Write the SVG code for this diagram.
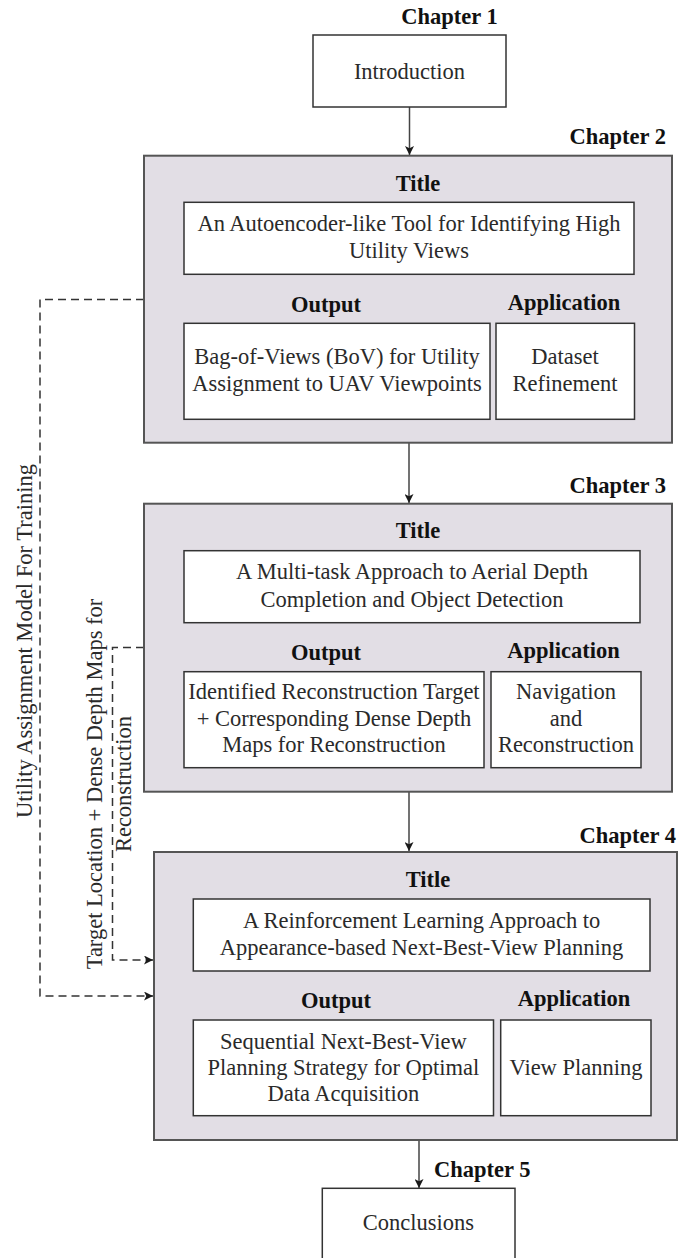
<svg xmlns="http://www.w3.org/2000/svg" width="678" height="1258" viewBox="0 0 678 1258">
<defs>
<marker id="arr" markerUnits="userSpaceOnUse" viewBox="0 0 10 10" markerWidth="9" markerHeight="9" refX="10" refY="5" orient="auto">
<path d="M0,0 L10,5 L0,10 L2.5,5 z" fill="#1a1a1a"/>
</marker>
</defs>
<style>
.chap{fill:#e2dee5;stroke:#555;stroke-width:2}
.box{fill:#fff;stroke:#333;stroke-width:1.5}
.plain{fill:#fff;stroke:#333;stroke-width:1.5}
.t{font-family:"Liberation Serif","Times New Roman",serif;font-size:22.5px;fill:#2a2a2a;text-anchor:middle}
.b{font-family:"Liberation Serif","Times New Roman",serif;font-size:22.5px;font-weight:bold;fill:#111;text-anchor:middle}
.end{text-anchor:end}
.start{text-anchor:start}
.conn{fill:none;stroke:#444;stroke-width:1.5}
.dash{fill:none;stroke:#333;stroke-width:1.5;stroke-dasharray:8 5}
</style>
<rect width="678" height="1258" fill="#fff"/>

<g id="connectors">
<line class="conn" x1="409.5" y1="107" x2="409.5" y2="155" marker-end="url(#arr)"/>
<line class="conn" x1="409" y1="443" x2="409" y2="503" marker-end="url(#arr)"/>
<line class="conn" x1="409" y1="792" x2="409" y2="851" marker-end="url(#arr)"/>
<line class="conn" x1="419" y1="1140" x2="419" y2="1188" marker-end="url(#arr)"/>
<path class="dash" d="M144,299.5 H40 V996 H153" marker-end="url(#arr)"/>
<path class="dash" d="M144,647.5 H112.5 V960 H153" marker-end="url(#arr)"/>
<text class="t" transform="translate(31.5,641) rotate(-90)">Utility Assignment Model For Training</text>
<text class="t" transform="translate(102,784) rotate(-90)"><tspan x="0" y="0">Target Location + Dense Depth Maps for</tspan><tspan x="0" y="29">Reconstruction</tspan></text>
</g>

<g id="chapter1">
<text class="b" x="449.5" y="23.5">Chapter 1</text>
<rect class="plain" x="313" y="35" width="193" height="72"/>
<text class="t" x="409.5" y="78.5">Introduction</text>
</g>

<g id="chapter2">
<text class="b end" x="666" y="143.5">Chapter 2</text>
<rect class="chap" x="144" y="155.7" width="528" height="287"/>
<text class="b" x="418" y="190.7">Title</text>
<rect class="box" x="184" y="202.3" width="450" height="72"/>
<text class="t" x="409" y="231">An Autoencoder-like Tool for Identifying High</text>
<text class="t" x="409" y="258.3">Utility Views</text>
<text class="b" x="326" y="311.7">Output</text>
<text class="b" x="564" y="310">Application</text>
<rect class="box" x="184" y="323.3" width="306" height="96"/>
<text class="t" x="337" y="364">Bag-of-Views (BoV) for Utility</text>
<text class="t" x="337" y="390.7">Assignment to UAV Viewpoints</text>
<rect class="box" x="496" y="323.3" width="138.5" height="96"/>
<text class="t" x="565" y="364">Dataset</text>
<text class="t" x="565" y="390.7">Refinement</text>
</g>

<g id="chapter3">
<text class="b end" x="666" y="493.3">Chapter 3</text>
<rect class="chap" x="144" y="503.7" width="528" height="288"/>
<text class="b" x="418" y="538.3">Title</text>
<rect class="box" x="184" y="550.7" width="456" height="72"/>
<text class="t" x="412" y="579.3">A Multi-task Approach to Aerial Depth</text>
<text class="t" x="412" y="606.7">Completion and Object Detection</text>
<text class="b" x="326" y="660">Output</text>
<text class="b" x="563.5" y="658.3">Application</text>
<rect class="box" x="184" y="671.7" width="300" height="96"/>
<text class="t" x="334" y="699.3">Identified Reconstruction Target</text>
<text class="t" x="334" y="725.8">+ Corresponding Dense Depth</text>
<text class="t" x="334" y="752">Maps for Reconstruction</text>
<rect class="box" x="491" y="671.7" width="150" height="96"/>
<text class="t" x="566" y="699.3">Navigation</text>
<text class="t" x="566" y="725.8">and</text>
<text class="t" x="566" y="752">Reconstruction</text>
</g>

<g id="chapter4">
<text class="b end" x="676" y="842.7">Chapter 4</text>
<rect class="chap" x="154" y="852" width="523" height="288"/>
<text class="b" x="428" y="886.7">Title</text>
<rect class="box" x="193.3" y="899" width="456.7" height="72"/>
<text class="t" x="421.6" y="927.7">A Reinforcement Learning Approach to</text>
<text class="t" x="421.6" y="955">Appearance-based Next-Best-View Planning</text>
<text class="b" x="336" y="1008.3">Output</text>
<text class="b" x="574" y="1006">Application</text>
<rect class="box" x="193.3" y="1020" width="300.2" height="95.7"/>
<text class="t" x="343.4" y="1049">Sequential Next-Best-View</text>
<text class="t" x="343.4" y="1075.3">Planning Strategy for Optimal</text>
<text class="t" x="343.4" y="1100.5">Data Acquisition</text>
<rect class="box" x="500.7" y="1020" width="150.3" height="95.7"/>
<text class="t" x="576" y="1075.3">View Planning</text>
</g>

<g id="chapter5">
<text class="b start" x="434" y="1176.7">Chapter 5</text>
<rect class="plain" x="322.3" y="1188.3" width="192.7" height="72"/>
<text class="t" x="418.5" y="1230">Conclusions</text>
</g>
</svg>
